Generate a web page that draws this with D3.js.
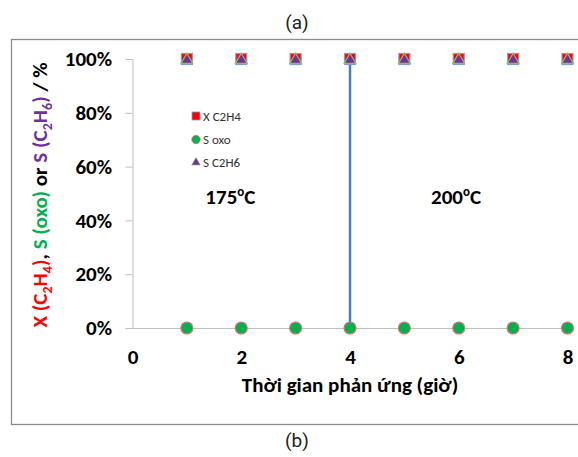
<!DOCTYPE html>
<html>
<head>
<meta charset="utf-8">
<script src="https://cdn.jsdelivr.net/npm/d3@7"></script>
<style>
  html, body { margin: 0; padding: 0; background: #fff; }
  svg { display: block; }
</style>
</head>
<body>
<svg id="chart" width="578" height="457"></svg>
<script>
// Reaction time (hours) and measured values (%)
const hours = [1, 2, 3, 4, 5, 6, 7, 8];
const xC2H4 = [100, 100, 100, 100, 100, 100, 100, 100];
const sOxo = [0, 0, 0, 0, 0, 0, 0, 0];
const sC2H6 = [100, 100, 100, 100, 100, 100, 100, 100];
// Temperature switch between the two stages
const switchTime = [4, 4];
const switchLevels = [0, 100];
const xTicks = [0, 2, 4, 6, 8];
const yTicks = [0, 20, 40, 60, 80, 100];
const stageLabels = [{ t: 1.8, base: "175", sup: "o", unit: "C" }, { t: 5.95, base: "200", sup: "o", unit: "C" }];

const svg = d3.select("#chart");
const font = "Calibri, Carlito, 'Open Sans', 'DejaVu Sans', sans-serif";
const big = 21;

const x = d3.scaleLinear().domain([0, 8]).range([132.5, 567.5]);
const y = d3.scaleLinear().domain([0, 100]).range([328, 59]);

// Captions
svg.append("text").attr("x", 297).attr("y", 29).attr("text-anchor", "middle")
  .attr("font-family", "Roboto, 'Open Sans', sans-serif").attr("font-size", 19).attr("fill", "#222").text("(a)");
svg.append("text").attr("x", 297).attr("y", 447).attr("text-anchor", "middle")
  .attr("font-family", "Roboto, 'Open Sans', sans-serif").attr("font-size", 19).attr("fill", "#222").text("(b)");

// Chart frame
svg.append("rect").attr("x", 11.5).attr("y", 39.5).attr("width", 580).attr("height", 385)
  .attr("fill", "none").attr("stroke", "#8c8c8c").attr("stroke-width", 1.3);

// Y axis
const yAxis = d3.axisLeft(y).tickValues(yTicks).tickFormat(d => d + "%").tickSize(7).tickPadding(13.5);
const gy = svg.append("g").attr("transform", `translate(${x(0)},0)`).call(yAxis);
gy.select(".domain").attr("stroke", "#bfbfbf");
gy.selectAll(".tick line").attr("stroke", "#bfbfbf");
gy.selectAll(".tick text").attr("font-family", font).attr("font-size", big).attr("font-weight", "bold").attr("fill", "#000");

// X axis drawn along the zero line
const xAxis = d3.axisBottom(x).tickValues(xTicks).tickFormat(d3.format("d")).tickSize(0).tickPadding(21);
const gx = svg.append("g").attr("transform", `translate(0,${y(0)})`).call(xAxis);
gx.select(".domain").attr("stroke", "#bfbfbf");
gx.selectAll(".tick text").attr("font-family", font).attr("font-size", big).attr("font-weight", "bold").attr("fill", "#000");

// Axis titles
svg.append("text").attr("x", 350).attr("y", 392).attr("text-anchor", "middle")
  .attr("font-family", font).attr("font-size", big).attr("font-weight", "bold").attr("fill", "#000")
  .text("Thời gian phản ứng (giờ)");

const yTitle = svg.append("text").attr("transform", "translate(47,195) rotate(-90)")
  .attr("text-anchor", "middle").attr("font-family", font).attr("font-size", big).attr("font-weight", "bold");
const parts = [
  ["X (C", "#ff0000"], ["2", "#ff0000", true], ["H", "#ff0000"], ["4", "#ff0000", true], [")", "#ff0000"],
  [", ", "#000"], ["S (oxo)", "#00b050"], [" or ", "#000"],
  ["S (C", "#7030a0"], ["2", "#7030a0", true], ["H", "#7030a0"], ["6", "#7030a0", true], [")", "#7030a0"],
  [" / %", "#000"]
];
parts.forEach((p, i) => {
  const ts = yTitle.append("tspan").attr("fill", p[1]).text(p[0]);
  const prev = parts[i - 1];
  if (p[2]) ts.attr("font-size", 14).attr("dy", 5);
  else if (prev && prev[2]) ts.attr("dy", -5);
});

// Stage switch line
const line = d3.line().x((d, i) => x(switchTime[i])).y(d => y(d));
svg.append("path").datum(switchLevels).attr("d", line)
  .attr("fill", "none").attr("stroke", "#4a7ebb").attr("stroke-width", 2.5);

// Stage temperature labels
stageLabels.forEach(s => {
  const t = svg.append("text").attr("x", x(s.t)).attr("y", 204).attr("text-anchor", "middle")
    .attr("font-family", font).attr("font-size", big).attr("font-weight", "bold").attr("fill", "#000");
  t.append("tspan").text(s.base);
  t.append("tspan").attr("font-size", 13).attr("dy", -8).text(s.sup);
  t.append("tspan").attr("dy", 8).text(s.unit);
});

// Markers
const sq = 11;
svg.append("g").selectAll("rect").data(hours).join("rect")
  .attr("x", (d) => x(d) - sq / 2).attr("y", (d, i) => y(xC2H4[i]) - sq / 2)
  .attr("width", sq).attr("height", sq)
  .attr("fill", "#ff0000").attr("stroke", "#7f9fd0").attr("stroke-width", 1.2);

const tri = d3.symbol().type(d3.symbolTriangle).size(60);
svg.append("g").selectAll("path").data(hours).join("path")
  .attr("d", tri)
  .attr("transform", (d, i) => `translate(${x(d)},${y(sC2H6[i]) + 1})`)
  .attr("fill", "#7030a0").attr("stroke", "#9bbb59").attr("stroke-width", 1.2);

svg.append("g").selectAll("circle").data(hours).join("circle")
  .attr("cx", d => x(d)).attr("cy", (d, i) => y(sOxo[i])).attr("r", 6)
  .attr("fill", "#00b050").attr("stroke", "#d9776f").attr("stroke-width", 1.2);

// Legend
const legend = svg.append("g").attr("font-family", font).attr("font-size", 13).attr("fill", "#333");
legend.append("rect").attr("x", 192).attr("y", 112).attr("width", 8).attr("height", 8)
  .attr("fill", "#ff0000").attr("stroke", "#7f9fd0").attr("stroke-width", 0.8);
legend.append("text").attr("x", 203).attr("y", 121).text("X C2H4");
legend.append("circle").attr("cx", 196).attr("cy", 139.5).attr("r", 4.2)
  .attr("fill", "#00b050").attr("stroke", "#d9776f").attr("stroke-width", 0.8);
legend.append("text").attr("x", 203).attr("y", 144).text("S oxo");
legend.append("path").attr("d", d3.symbol().type(d3.symbolTriangle).size(32))
  .attr("transform", "translate(196,162.5)").attr("fill", "#7030a0").attr("stroke", "#9bbb59").attr("stroke-width", 0.6);
legend.append("text").attr("x", 203).attr("y", 167).text("S C2H6");
</script>
</body>
</html>
